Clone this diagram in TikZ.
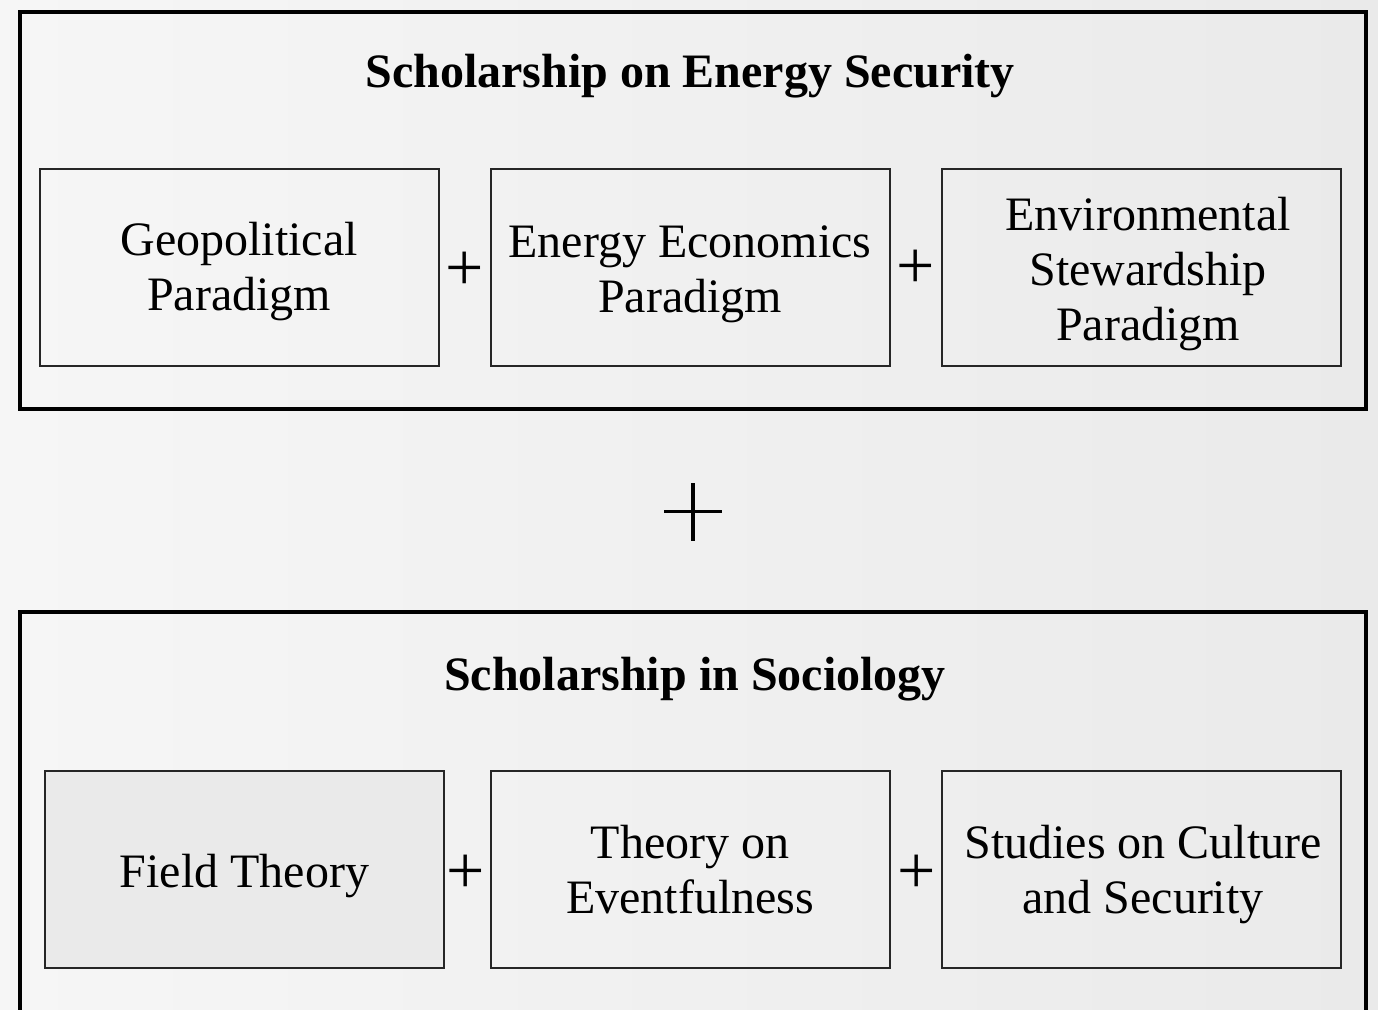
\documentclass[tikz,border=0pt]{standalone}
\usepackage{fontspec}
\setmainfont{Liberation Serif}
\definecolor{bgL}{HTML}{F6F6F6}
\definecolor{bgR}{HTML}{EAEAEA}
\definecolor{boxfill}{HTML}{EAEAEA}
\begin{document}
\begin{tikzpicture}[x=1pt,y=-1pt,
  outerbox/.style={draw=black,line width=4pt,minimum width=1346pt,inner sep=0pt},
  innerbox/.style={draw=black!85,line width=2pt,minimum width=399pt,minimum height=197pt,inner sep=0pt},
  boxtext/.style={align=center,inner sep=0pt,font=\fontsize{48pt}{55pt}\selectfont},
  titletext/.style={font=\fontsize{48pt}{54pt}\selectfont\bfseries},
  plustext/.style={font=\fontsize{68pt}{68pt}\selectfont,inner sep=0pt}]
\useasboundingbox (0,0) rectangle (1378,1009);
\clip (0,0) rectangle (1378,1009);
\shade[shading angle=110,left color=bgL,right color=bgR] (0,0) rectangle (1378,1009);

% outer boxes
\node[outerbox,minimum height=397pt] (topbox) at (693,210.5) {};
\node[outerbox,minimum height=420pt] (botbox) at (693,822) {};

% titles
\node[titletext] (toptitle) at (690,76) {Scholarship on Energy Security};
\node[titletext] (bottitle) at (695,679) {Scholarship in Sociology};

% top row
\node[innerbox] (geo) at (239,267) {};
\node[innerbox] (eco) at (690,267) {};
\node[innerbox] (env) at (1141,267) {};
\node[boxtext] (geoT) at ([yshift=-5pt]geo.center) {Geopolitical\\Paradigm};
\node[boxtext] (ecoT) at ([yshift=-7pt]eco.center) {Energy Economics\\Paradigm};
\node[boxtext] (envT) at ([yshift=-7pt,xshift=7pt]env.center) {Environmental\\Stewardship\\Paradigm};
\node[plustext] (p1) at (465,271) {+};
\node[plustext] (p2) at (916,269) {+};

% bottom row
\node[innerbox,fill=boxfill] (field) at (244.5,869) {};
\node[innerbox] (event) at (690,869) {};
\node[innerbox] (cult) at (1141,869) {};
\node[boxtext] (fieldT) at ([yshift=-7pt]field.center) {Field Theory};
\node[boxtext] (eventT) at ([yshift=-1pt]event.center) {Theory on\\Eventfulness};
\node[boxtext] (cultT) at ([yshift=-6pt,xshift=2pt]cult.center) {Studies on Culture\\and Security};
\node[plustext] (p3) at (466,874) {+};
\node[plustext] (p4) at (917,874) {+};

% big plus
\coordinate (bp) at (693,511.5);
\draw[line width=3.5pt] ([xshift=-29pt]bp) -- ([xshift=29pt]bp);
\draw[line width=3.5pt] ([yshift=-29pt]bp) -- ([yshift=29pt]bp);
\end{tikzpicture}
\end{document}
